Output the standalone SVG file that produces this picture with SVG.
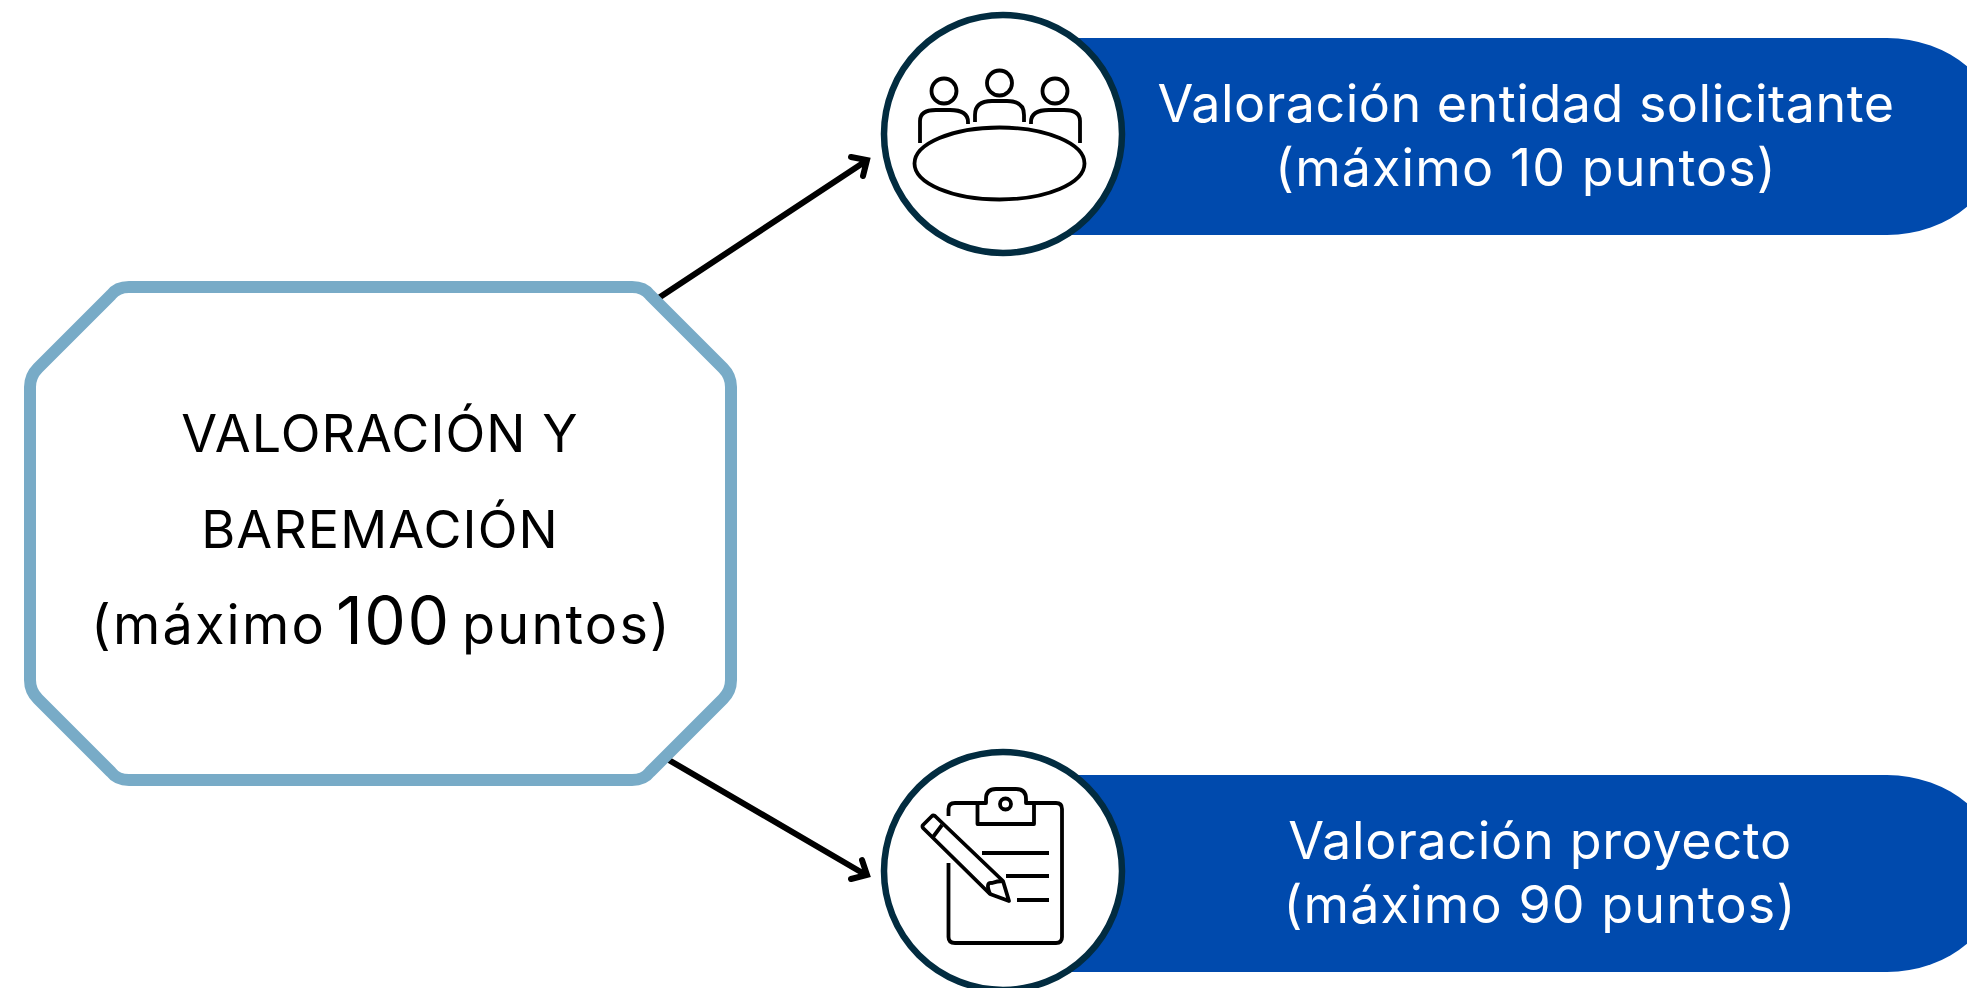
<svg xmlns="http://www.w3.org/2000/svg" width="1967" height="988" viewBox="0 0 1967 988">
<defs><style>
.pill{fill:#004aad}
.ring{fill:#fff;stroke:#022c40;stroke-width:6.5}
.ic{fill:none;stroke:#000;stroke-width:3.8;stroke-linejoin:round}
.t{font-family:"Inter","Liberation Sans",sans-serif;text-anchor:middle}
.w{fill:#fff;font-size:52px;letter-spacing:.5px}
.p{letter-spacing:1.1px}
.k{fill:#000;font-size:52px;letter-spacing:1.1px}
.s{font-size:54px;letter-spacing:2.2px;text-anchor:start}
.c{fill:none;stroke:#000;stroke-width:6;stroke-linecap:round;stroke-linejoin:miter}
</style></defs>
<rect width="1967" height="988" fill="#fff"/>
<g id="connectors">
<path class="c" d="M654 301L866 161M851 157L867 160L863 176"/>
<path class="c" d="M662 756L866 875M851 879L867 875L862 860"/>
</g>
<g id="node-main">
<path d="M129 287H632Q644 287 650 295L723 368Q731 376 731 387V680Q731 691 723 699L650 772Q644 780 632 780H129Q117 780 111 772L38 699Q30 691 30 680V387Q30 376 38 368L111 295Q117 287 129 287Z" fill="#fff" stroke="#78abc7" stroke-width="12"/>
<text class="t k" x="380" y="452">VALORACIÓN Y</text>
<text class="t k" x="380" y="548">BAREMACIÓN</text>
<text class="t k s" y="644"><tspan x="91">(máximo</tspan><tspan x="336" font-size="66" letter-spacing="1.500">100</tspan><tspan x="462">puntos)</tspan></text>
</g>
<g id="node-entidad">
<path class="pill" d="M1040 38H1887A114 98.5 0 0 1 1887 235H1040Z"/>
<circle class="ring" cx="1003" cy="134" r="119"/>
<g class="ic">
<circle cx="944" cy="91" r="12.5"/><circle cx="999.5" cy="83" r="12.5"/><circle cx="1055" cy="91" r="12.5"/>
<path d="M920 143V121Q920 110 936 110H950Q968 110 968 122V124"/>
<path d="M975 122V115Q975 101 992 101H1007Q1024 101 1024 115V122"/>
<path d="M1031 124V122Q1031 110 1049 110H1064Q1080 110 1080 121V143"/>
<ellipse cx="999.5" cy="163.500" rx="85" ry="36"/>
</g>
<text class="t w" x="1526" y="122">Valoración entidad solicitante</text>
<text class="t w p" x="1526" y="186">(máximo 10 puntos)</text>
</g>
<g id="node-proyecto">
<path class="pill" d="M1040 775H1887A114 98.5 0 0 1 1887 972H1040Z"/>
<circle class="ring" cx="1003" cy="871" r="119"/>
<g class="ic">
<path d="M948.500 816V809Q948.500 803 955 803H977M1027 803H1056Q1062 803 1062 809V937Q1062 943 1056 943H955Q948.500 943 948.500 937V863"/>
<path d="M977.500 824V803H986V799Q986 789 996 789H1016Q1026 789 1026 799V803H1034V824Z"/>
<circle cx="1005.500" cy="804" r="5.500"/>
<path d="M982 853H1049M1006 876H1049M1017 900H1049"/>
<path d="M923 825L932 816Q933 815 935 816L1003 881L1009 901L990 894L923 828Q922 826 923 825Z"/>
<path d="M933 837L942 825M990 894Q985 882 992 883Q997 881 1003 881"/>
</g>
<text class="t w" x="1540" y="859" style="letter-spacing:.7px">Valoración proyecto</text>
<text class="t w p" x="1540" y="923">(máximo 90 puntos)</text>
</g>
</svg>
